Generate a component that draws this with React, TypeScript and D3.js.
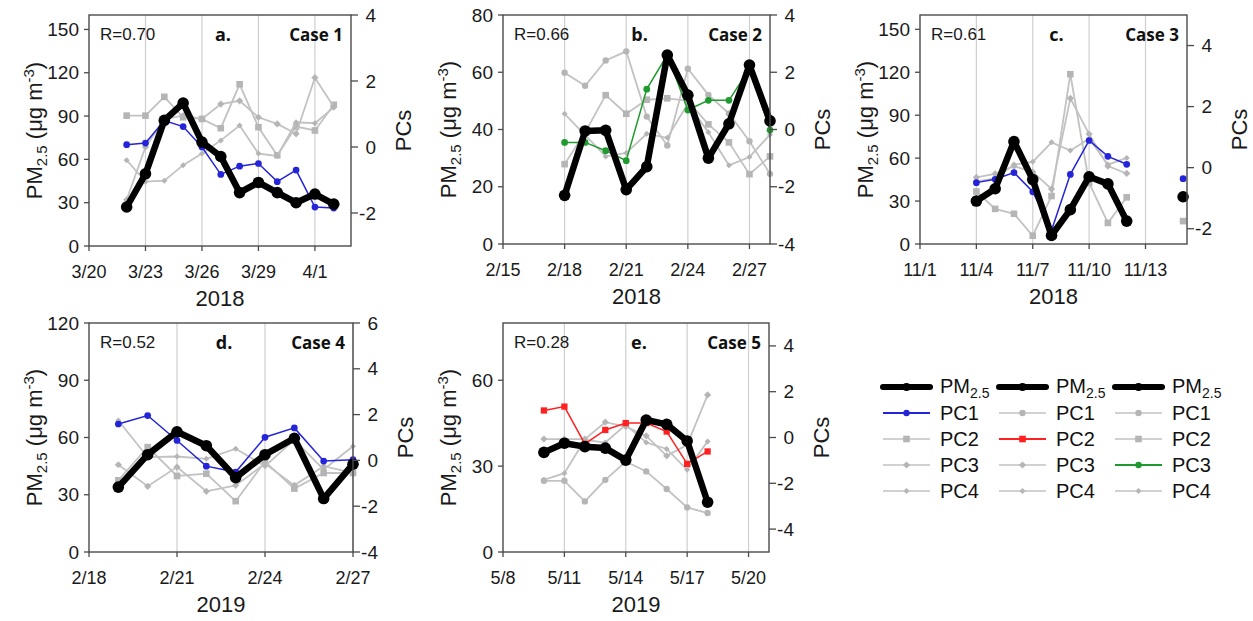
import React from "react";
import * as d3 from "d3";

// ---------- data ----------
// Case 1, 2018
const case1Dates = ["2018-03-22", "2018-03-23", "2018-03-24", "2018-03-25", "2018-03-26", "2018-03-27", "2018-03-28", "2018-03-29", "2018-03-30", "2018-03-31", "2018-04-01", "2018-04-02"];
const case1PM = [27, 50, 87, 99, 72, 62, 37, 44, 37, 30, 36, 29];
const case1PC1 = [0.07, 0.12, 0.8, 0.62, 0.0, -0.83, -0.58, -0.5, -1.05, -0.7, -1.82, -1.85];
const case1PC2 = [0.95, 0.95, 1.52, 0.9, 0.85, 0.57, 1.9, 0.6, -0.25, 0.62, 0.5, 1.28];
const case1PC3 = [-1.6, 0.0, 0.85, 0.95, 0.85, 1.3, 1.4, 0.9, 0.7, 0.4, 2.1, 1.22];
const case1PC4 = [-0.4, -1.05, -1.02, -0.55, -0.2, 0.2, 0.65, -0.2, -0.27, 0.75, 0.72, 1.2];

// Case 2, 2018
const case2Dates = ["2018-02-18", "2018-02-19", "2018-02-20", "2018-02-21", "2018-02-22", "2018-02-23", "2018-02-24", "2018-02-25", "2018-02-26", "2018-02-27", "2018-02-28"];
const case2PM = [17, 39.5, 39.7, 19, 27, 66, 52, 30, 42, 62.5, 43];
const case2PC1 = [1.98, 1.53, 2.41, 2.73, 0.45, -0.56, 2.12, 1.21, 0.56, -0.41, -1.55];
const case2PC2 = [-1.21, -0.1, 1.2, 0.55, 1.04, 1.09, 1.0, 0.18, -0.45, -1.56, -0.94];
const case2PC3 = [-0.45, -0.45, -0.74, -1.09, 1.41, 2.61, 0.68, 1.02, 1.02, 2.12, -0.02];
const case2PC4 = [0.55, -0.2, -0.94, -0.82, -0.15, -0.29, 0.9, -0.1, -1.25, -0.96, -0.18];

// Case 3, 2018 (11/13 and 11/14 missing)
const case3Dates = ["2018-11-04", "2018-11-05", "2018-11-06", "2018-11-07", "2018-11-08", "2018-11-09", "2018-11-10", "2018-11-11", "2018-11-12", "2018-11-13", "2018-11-14", "2018-11-15"];
const case3PM = [30, 38.6, 71.6, 45, 6, 24, 47, 42, 16, null, null, 33];
const case3PC1 = [-0.49, -0.38, -0.16, -0.79, -2.05, -0.22, 0.89, 0.37, 0.11, null, null, -0.36];
const case3PC2 = [-0.78, -1.35, -1.51, -2.23, -0.93, 3.06, -0.5, -1.81, -0.97, null, null, -1.75];
const case3PC3 = [-0.32, -0.2, 0.05, -0.14, -0.7, 2.27, 1.1, 0.05, -0.19, null, null, null];
const case3PC4 = [-0.45, -0.35, 0.1, 0.19, 0.83, 0.56, 0.95, 0.1, 0.32, null, null, null];

// Case 4, 2019
const case4Dates = ["2019-02-19", "2019-02-20", "2019-02-21", "2019-02-22", "2019-02-23", "2019-02-24", "2019-02-25", "2019-02-26", "2019-02-27"];
const case4PM = [34, 51, 63, 55.7, 39, 51, 59.6, 28, 46];
const case4PC1 = [1.59, 1.96, 0.87, -0.25, -0.51, 1.01, 1.42, -0.03, 0.03];
const case4PC2 = [-0.87, 0.58, -0.68, -0.58, -1.78, -0.05, -1.23, -0.55, -0.55];
const case4PC3 = [-0.19, -1.13, -0.29, -1.35, -1.09, -0.14, -1.09, -0.25, -0.55];
const case4PC4 = [1.74, 0.14, 0.17, 0.07, 0.51, -0.25, 0.9, -0.4, 0.62];

// Case 5, 2019
const case5Dates = ["2019-05-10", "2019-05-11", "2019-05-12", "2019-05-13", "2019-05-14", "2019-05-15", "2019-05-16", "2019-05-17", "2019-05-18"];
const case5PM = [34.8, 38, 36.8, 36.3, 32.1, 46.1, 44.6, 38.8, 17.4];
const case5PC1 = [-1.89, -1.89, -2.79, -1.85, -1.05, -1.48, -2.25, -3.05, -3.3];
const case5PC2 = [1.18, 1.35, -0.28, 0.33, 0.63, 0.63, 0.26, -1.15, -0.61];
const case5PC3 = [-0.07, -0.07, -0.07, 0.67, 0.48, 0.07, -0.8, -0.32, 1.86];
const case5PC4 = [-1.85, -1.56, -0.1, -0.22, 0.55, -0.22, -0.5, -1.41, -0.17];

// axis ticks
const xTicks1 = ["2018-03-20", "2018-03-23", "2018-03-26", "2018-03-29", "2018-04-01"];
const xTicks2 = ["2018-02-15", "2018-02-18", "2018-02-21", "2018-02-24", "2018-02-27"];
const xTicks3 = ["2018-11-01", "2018-11-04", "2018-11-07", "2018-11-10", "2018-11-13"];
const xTicks4 = ["2019-02-18", "2019-02-21", "2019-02-24", "2019-02-27"];
const xTicks5 = ["2019-05-08", "2019-05-11", "2019-05-14", "2019-05-17", "2019-05-20"];

const pmTicks1 = [0, 30, 60, 90, 120, 150];
const pmTicks2 = [0, 20, 40, 60, 80];
const pmTicks4 = [0, 30, 60, 90, 120];
const pmTicks5 = [0, 30, 60];
const pcTicks1 = [-2, 0, 2, 4];
const pcTicks2 = [-4, -2, 0, 2, 4];
const pcTicks4 = [-4, -2, 0, 2, 4, 6];

const rValues = ["R=0.70", "R=0.66", "R=0.61", "R=0.52", "R=0.28"];
const pcNames = ["PC1", "PC2", "PC3", "PC4"];

// ---------- styling ----------
const FONT = "'Liberation Sans', Arial, sans-serif";
const BOLD = "'Open Sans', 'Liberation Sans', Arial, sans-serif";
const GRAY = "#c2c2c2";
const GRAY_MK = "#b5b5b5";
const AXIS = "#4a4a4a";
const BLUE = "#2424d8";
const RED = "#ff2020";
const GREEN = "#1f9a2e";

const parse = (s: string) => new Date(s + "T00:00:00Z");
const fmt = d3.utcFormat("%-m/%-d");

type Shape = "circle" | "square" | "diamond" | "dot";
const pcShapes: Shape[] = ["circle", "square", "diamond", "dot"];

function Marker({ shape, x, y, fill, s = 1 }: { shape: Shape; x: number; y: number; fill: string; s?: number }) {
  if (shape === "square") return <rect x={x - 3.3 * s} y={y - 3.3 * s} width={6.6 * s} height={6.6 * s} fill={fill} />;
  if (shape === "diamond") {
    const r = 3.6 * s;
    return <path d={`M${x},${y - r}L${x + r},${y}L${x},${y + r}L${x - r},${y}Z`} fill={fill} />;
  }
  if (shape === "dot") {
    const r = 3 * s;
    return <path d={`M${x},${y - r}L${x + r},${y}L${x},${y + r}L${x - r},${y}Z`} fill={fill} />;
  }
  return <circle cx={x} cy={y} r={3.2 * s} fill={fill} />;
}

type PanelCfg = {
  left: number; right: number; top: number; bottom: number;
  start: string; end: Date; xTicks: string[];
  pmDomain: [number, number]; pmTicks: number[];
  pcDomain: [number, number]; pcTicks: number[];
  dates: string[]; pm: (number | null)[]; pcs: (number | null)[][];
  hi: number; hiColor: string; hiShape: Shape;
  r: string; letter: string; caseName: string; year: string;
};

function Panel({ c }: { c: PanelCfg }) {
  const x = d3.scaleUtc().domain([parse(c.start), c.end]).range([c.left, c.right]);
  const yL = d3.scaleLinear().domain(c.pmDomain).range([c.bottom, c.top]);
  const yR = d3.scaleLinear().domain(c.pcDomain).range([c.bottom, c.top]);
  const dates = c.dates.map(parse);
  const mkLine = (vals: (number | null)[], ys: d3.ScaleLinear<number, number>) =>
    d3.line<number | null>()
      .defined((v) => v != null)
      .x((_, i) => x(dates[i]))
      .y((v) => ys(v as number))(vals) || "";
  const cx = (c.left + c.right) / 2;
  const cy = (c.top + c.bottom) / 2;

  const grays = c.pcs.map((v, i) => ({ v, i })).filter((d) => d.i !== c.hi);
  const hi = c.pcs[c.hi];

  return (
    <g>
      {/* vertical grid */}
      {c.xTicks.slice(1).map((t) => (
        <line key={t} x1={x(parse(t))} x2={x(parse(t))} y1={c.top} y2={c.bottom} stroke="#cfcfcf" strokeWidth={1.2} />
      ))}
      {/* gray PCs */}
      {grays.map(({ v, i }) => (
        <g key={i}>
          <path d={mkLine(v, yR)} fill="none" stroke={GRAY} strokeWidth={1.8} />
          {v.map((d, j) => d == null ? null : <Marker key={j} shape={pcShapes[i]} x={x(dates[j])} y={yR(d)} fill={GRAY_MK} />)}
        </g>
      ))}
      {/* highlighted PC */}
      <path d={mkLine(hi, yR)} fill="none" stroke={c.hiColor} strokeWidth={1.5} />
      {hi.map((d, j) => d == null ? null : <Marker key={j} shape={c.hiShape} x={x(dates[j])} y={yR(d)} fill={c.hiColor} s={c.hiShape === "square" ? 0.95 : 1.05} />)}
      {/* PM2.5 */}
      <path d={mkLine(c.pm, yL)} fill="none" stroke="#000" strokeWidth={6.5} strokeLinejoin="round" />
      {c.pm.map((d, j) => d == null ? null : <circle key={j} cx={x(dates[j])} cy={yL(d)} r={5.8} fill="#000" />)}

      {/* frame */}
      <rect x={c.left} y={c.top} width={c.right - c.left} height={c.bottom - c.top} fill="none" stroke={AXIS} strokeWidth={1.4} />
      {/* x axis */}
      {c.xTicks.map((t) => (
        <g key={t}>
          <line x1={x(parse(t))} x2={x(parse(t))} y1={c.bottom} y2={c.bottom + 5} stroke={AXIS} strokeWidth={1.3} />
          <text x={x(parse(t))} y={c.bottom + 32} textAnchor="middle" fontSize={18} fontFamily={FONT} fill="#1a1a1a">{fmt(parse(t))}</text>
        </g>
      ))}
      <text x={cx} y={c.bottom + 60} textAnchor="middle" fontSize={22} fontFamily={FONT} fill="#1a1a1a">{c.year}</text>
      {/* left axis */}
      {c.pmTicks.map((t) => (
        <g key={t}>
          <line x1={c.left - 5} x2={c.left} y1={yL(t)} y2={yL(t)} stroke={AXIS} strokeWidth={1.3} />
          <text x={c.left - 10} y={yL(t) + 6.5} textAnchor="end" fontSize={19} fontFamily={FONT} fill="#1a1a1a">{t}</text>
        </g>
      ))}
      <text transform={`translate(${c.left - 47},${cy}) rotate(-90)`} textAnchor="middle" fontSize={22} fontFamily={FONT} fill="#1a1a1a">
        PM<tspan fontSize={15} dy={5}>2.5</tspan><tspan dy={-5}> (μg m</tspan><tspan fontSize={15} dy={-8}>-3</tspan><tspan dy={8}>)</tspan>
      </text>
      {/* right axis */}
      {c.pcTicks.map((t) => (
        <g key={t}>
          <line x1={c.right} x2={c.right + 7} y1={yR(t)} y2={yR(t)} stroke={AXIS} strokeWidth={1.3} />
          <text x={c.right + 25} y={yR(t) + 6.5} textAnchor="end" fontSize={19} fontFamily={FONT} fill="#1a1a1a">{t}</text>
        </g>
      ))}
      <text transform={`translate(${c.right + 60},${cy}) rotate(-90)`} textAnchor="middle" fontSize={22} fontFamily={FONT} fill="#1a1a1a">PCs</text>
      {/* annotations */}
      <text x={c.left + 11} y={c.top + 25} fontSize={17} fontFamily={FONT} fill="#1a1a1a">{c.r}</text>
      <text x={cx + 3} y={c.top + 26} textAnchor="middle" fontSize={18} fontWeight="bold" fontFamily={BOLD} fill="#111">{c.letter}</text>
      <text x={c.right - 8} y={c.top + 26} textAnchor="end" fontSize={17} fontWeight="bold" fontFamily={BOLD} fill="#111">{c.caseName}</text>
    </g>
  );
}

const panels: PanelCfg[] = [
  {
    left: 89, right: 351, top: 15, bottom: 246, start: "2018-03-20", end: new Date("2018-04-02T22:00:00Z"), xTicks: xTicks1,
    pmDomain: [0, 160], pmTicks: pmTicks1, pcDomain: [-3, 4], pcTicks: pcTicks1,
    dates: case1Dates, pm: case1PM, pcs: [case1PC1, case1PC2, case1PC3, case1PC4],
    hi: 0, hiColor: BLUE, hiShape: "circle", r: rValues[0], letter: "a.", caseName: "Case 1", year: "2018",
  },
  {
    left: 503, right: 770, top: 15, bottom: 244, start: "2018-02-15", end: new Date("2018-02-28T00:00:00Z"), xTicks: xTicks2,
    pmDomain: [0, 80], pmTicks: pmTicks2, pcDomain: [-4, 4], pcTicks: pcTicks2,
    dates: case2Dates, pm: case2PM, pcs: [case2PC1, case2PC2, case2PC3, case2PC4],
    hi: 2, hiColor: GREEN, hiShape: "circle", r: rValues[1], letter: "b.", caseName: "Case 2", year: "2018",
  },
  {
    left: 920, right: 1187, top: 15, bottom: 244, start: "2018-11-01", end: new Date("2018-11-15T05:00:00Z"), xTicks: xTicks3,
    pmDomain: [0, 160], pmTicks: pmTicks1, pcDomain: [-2.5, 5], pcTicks: pcTicks1,
    dates: case3Dates, pm: case3PM, pcs: [case3PC1, case3PC2, case3PC3, case3PC4],
    hi: 0, hiColor: BLUE, hiShape: "circle", r: rValues[2], letter: "c.", caseName: "Case 3", year: "2018",
  },
  {
    left: 89, right: 353, top: 323, bottom: 552, start: "2019-02-18", end: new Date("2019-02-27T00:00:00Z"), xTicks: xTicks4,
    pmDomain: [0, 120], pmTicks: pmTicks4, pcDomain: [-4, 6], pcTicks: pcTicks4,
    dates: case4Dates, pm: case4PM, pcs: [case4PC1, case4PC2, case4PC3, case4PC4],
    hi: 0, hiColor: BLUE, hiShape: "circle", r: rValues[3], letter: "d.", caseName: "Case 4", year: "2019",
  },
  {
    left: 503, right: 769, top: 323, bottom: 552, start: "2019-05-08", end: new Date("2019-05-21T00:00:00Z"), xTicks: xTicks5,
    pmDomain: [0, 80], pmTicks: pmTicks5, pcDomain: [-5, 5], pcTicks: pcTicks2,
    dates: case5Dates, pm: case5PM, pcs: [case5PC1, case5PC2, case5PC3, case5PC4],
    hi: 1, hiColor: RED, hiShape: "square", r: rValues[4], letter: "e.", caseName: "Case 5", year: "2019",
  },
];

// legend: one column per highlighted PC (PC1 blue, PC2 red, PC3 green)
const legendHi = [0, 1, 2];
const legendColors = [BLUE, RED, GREEN];
const legendShapes: Shape[] = ["circle", "square", "circle"];

function Legend() {
  const colX = d3.scalePoint<number>().domain(legendHi).range([883, 1115]);
  const rowY = d3.scalePoint<number>().domain([0, 1, 2, 3, 4]).range([387, 491]);
  return (
    <g>
      {legendHi.map((h, ci) => {
        const x0 = colX(h) as number;
        const x1 = x0 + 47;
        const xm = (x0 + x1) / 2;
        return (
          <g key={h}>
            <line x1={x0} x2={x1} y1={rowY(0)} y2={rowY(0)} stroke="#000" strokeWidth={6} strokeLinecap="round" />
            <circle cx={xm} cy={rowY(0)} r={4} fill="#000" />
            <text x={x1 + 10} y={(rowY(0) as number) + 6} fontSize={20} fontFamily={FONT} fill="#111">
              PM<tspan fontSize={14} dy={5}>2.5</tspan>
            </text>
            {pcNames.map((n, i) => {
              const y = rowY(i + 1) as number;
              const isHi = i === h;
              const col = isHi ? legendColors[ci] : GRAY;
              return (
                <g key={n}>
                  <line x1={x0} x2={x1} y1={y} y2={y} stroke={col} strokeWidth={isHi ? 1.8 : 1.6} />
                  <Marker shape={isHi ? legendShapes[ci] : pcShapes[i]} x={xm} y={y} fill={isHi ? col : GRAY_MK} />
                  <text x={x1 + 10} y={y + 7} fontSize={20} fontFamily={FONT} fill="#111">{n}</text>
                </g>
              );
            })}
          </g>
        );
      })}
    </g>
  );
}

export default function App() {
  return (
    <svg width={1253} height={621} style={{ position: "absolute", left: 0, top: 0, background: "#fff" }}>
      <rect width={1253} height={621} fill="#fff" />
      {panels.map((p) => <Panel key={p.letter} c={p} />)}
      <Legend />
    </svg>
  );
}
